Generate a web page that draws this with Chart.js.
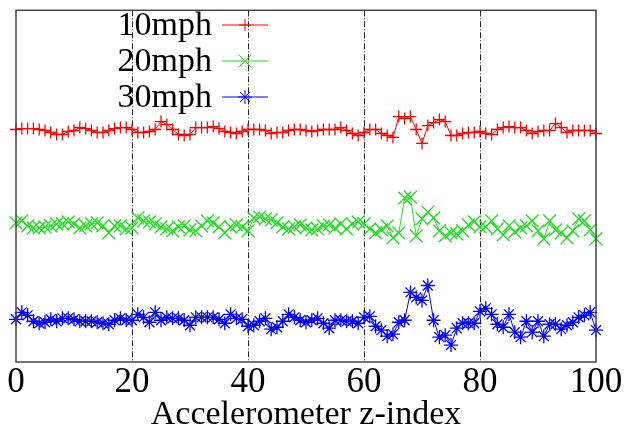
<!DOCTYPE html>
<html>
<head>
<meta charset="utf-8">
<script src="https://cdn.jsdelivr.net/npm/chart.js@4"></script>
<style>
  html, body { margin: 0; padding: 0; background: #fff; }
  #wrap { width: 626px; height: 432px; }
</style>
</head>
<body>
<div id="wrap"><canvas id="accelChart" width="626" height="432"></canvas></div>
<script>
// z-index positions 0..100
const zIndex = Array.from({ length: 101 }, (_, i) => i);
const xTicks = [0, 20, 40, 60, 80, 100];
const seriesNames = ["10mph", "20mph", "30mph"];

// readings (arbitrary units, offset per speed)
const mph10 = [
  23.4, 23.5, 23.5, 23.5, 23.4, 23.3, 23.1, 22.9, 22.9, 23.2,
  23.3, 23.6, 23.5, 23.3, 23.1, 23.1, 23.3, 23.5, 23.6, 23.6,
  23.4, 23.1, 23.1, 23.2, 23.4, 24.2, 23.9, 23.4, 22.9, 22.8,
  22.9, 23.6, 23.6, 23.6, 23.7, 23.5, 23.2, 23.1, 23.0, 23.2,
  23.4, 23.4, 23.4, 23.3, 23.0, 23.1, 23.1, 23.3, 23.4, 23.4,
  23.3, 23.2, 23.3, 23.4, 23.4, 23.4, 23.6, 23.3, 23.0, 22.8,
  23.1, 23.4, 23.4, 23.0, 22.8, 22.6, 24.7, 24.5, 24.7, 23.4,
  22.0, 23.8, 24.1, 24.4, 24.2, 22.8, 22.8, 23.0, 23.1, 23.1,
  23.2, 23.0, 22.9, 23.4, 23.6, 23.7, 23.6, 23.6, 23.3, 23.0,
  23.2, 23.3, 23.3, 24.0, 23.6, 23.1, 23.3, 23.3, 23.3, 23.3,
  23.0
];
const mph20 = [
  14.0, 14.2, 13.7, 13.5, 13.5, 13.6, 13.7, 13.9, 13.9, 14.1,
  13.9, 13.5, 13.7, 13.9, 14.0, 13.7, 13.0, 13.7, 13.7, 13.4,
  13.5, 14.5, 14.2, 14.1, 13.9, 13.6, 13.4, 13.2, 13.6, 13.7,
  13.3, 13.2, 13.7, 14.2, 14.0, 13.6, 13.0, 13.6, 13.8, 13.6,
  13.2, 14.5, 14.6, 14.4, 14.3, 14.0, 13.6, 13.4, 13.6, 13.8,
  13.5, 13.3, 13.4, 13.7, 13.8, 13.5, 13.9, 13.4, 13.9, 14.1,
  13.9, 13.4, 13.0, 13.3, 13.7, 12.5, 13.0, 16.5, 16.6, 12.7,
  14.4, 15.1, 14.5, 13.2, 12.7, 13.0, 12.9, 13.2, 13.8, 14.1,
  13.6, 13.6, 14.2, 13.4, 12.8, 13.7, 13.1, 13.5, 13.7, 14.2,
  13.2, 12.4, 14.2, 13.3, 13.0, 12.5, 13.2, 14.4, 14.2, 13.3,
  12.4
];
const mph30 = [
  4.3, 5.0, 4.7, 4.1, 3.9, 4.0, 4.3, 4.1, 4.4, 4.4,
  4.3, 4.1, 4.1, 4.1, 4.0, 3.9, 3.8, 4.2, 4.4, 4.2,
  4.2, 4.8, 4.5, 4.0, 5.0, 4.2, 4.5, 4.4, 4.4, 4.2,
  3.7, 4.5, 4.5, 4.5, 4.5, 4.3, 3.9, 4.8, 4.4, 4.3,
  3.6, 3.7, 4.1, 4.4, 3.3, 3.5, 4.1, 4.8, 4.5, 4.2,
  4.0, 4.2, 4.4, 3.9, 3.4, 4.2, 4.2, 4.1, 4.1, 3.9,
  4.5, 4.6, 3.6, 3.2, 2.6, 2.8, 4.0, 4.2, 7.0, 6.5,
  6.2, 7.7, 4.2, 2.5, 2.7, 1.7, 3.4, 3.9, 3.9, 3.9,
  5.1, 5.4, 4.8, 3.8, 3.5, 4.8, 3.0, 2.5, 4.1, 3.0,
  4.1, 2.6, 3.8, 3.8, 3.3, 3.7, 4.0, 4.5, 4.7, 5.0,
  3.2
];

const colors = ["#ff0000", "#22dd22", "#0000ff"];
const styles = ["cross", "crossRot", "star"];
const radii = [6, 9, 7];

function toPoints(arr) {
  return arr.map((v, i) => ({ x: zIndex[i], y: v }));
}

// gnuplot-like frame, plus key with the sample to the right of the text
const frameAndKey = {
  id: "frameAndKey",
  afterDraw(chart) {
    const { ctx, chartArea } = chart;
    ctx.save();
    ctx.strokeStyle = "#444";
    ctx.lineWidth = 1.5;
    ctx.setLineDash([]);
    ctx.strokeRect(chartArea.left, chartArea.top,
      chartArea.right - chartArea.left, chartArea.bottom - chartArea.top);

    ctx.font = "34px 'Liberation Serif'";
    ctx.textAlign = "right";
    ctx.textBaseline = "middle";
    const keyY = [25, 61, 97];
    seriesNames.forEach((name, k) => {
      const y = keyY[k];
      ctx.fillStyle = "#000";
      ctx.fillText(name, 212, y + 1);
      ctx.strokeStyle = colors[k];
      ctx.lineWidth = 1;
      ctx.beginPath();
      ctx.moveTo(222, y);
      ctx.lineTo(268, y);
      ctx.stroke();
      Chart.helpers.drawPoint(ctx, {
        pointStyle: styles[k], radius: radii[k], borderWidth: 1.3
      }, 245, y);
    });
    ctx.restore();
  }
};

new Chart(document.getElementById("accelChart"), {
  type: "line",
  data: {
    datasets: [mph10, mph20, mph30].map((arr, k) => ({
      label: seriesNames[k],
      data: toPoints(arr),
      borderColor: colors[k],
      backgroundColor: colors[k],
      borderWidth: 1,
      pointStyle: styles[k],
      pointRadius: radii[k],
      pointBorderWidth: 1.3,
      pointBorderColor: colors[k],
      tension: 0,
      clip: false
    }))
  },
  plugins: [frameAndKey],
  options: {
    responsive: false,
    animation: false,
    events: [],
    layout: { padding: { left: 16, right: 30, top: 8, bottom: 0 } },
    plugins: {
      legend: { display: false },
      tooltip: { enabled: false }
    },
    scales: {
      x: {
        type: "linear",
        min: 0,
        max: 100,
        afterBuildTicks: (scale) => {
          scale.ticks = xTicks.map(v => ({ value: v }));
        },
        afterFit: (scale) => { scale.height = 70; },
        border: { display: false, dash: [6, 2, 1, 2] },
        grid: {
          drawTicks: false,
          color: (c) => (c.tick && (c.tick.value === 0 || c.tick.value === 100)) ? "rgba(0,0,0,0)" : "#222",
          lineWidth: 1
        },
        ticks: {
          color: "#000",
          padding: 3,
          maxRotation: 0,
          font: { family: "'Liberation Serif'", size: 35, lineHeight: 1 }
        },
        title: {
          display: true,
          text: "Accelerometer z-index",
          color: "#000",
          padding: { top: 0, bottom: 0 },
          font: { family: "'Liberation Serif'", size: 34, lineHeight: 1 }
        }
      },
      y: {
        display: false,
        min: 0,
        max: 35.4
      }
    }
  }
});
</script>
</body>
</html>
